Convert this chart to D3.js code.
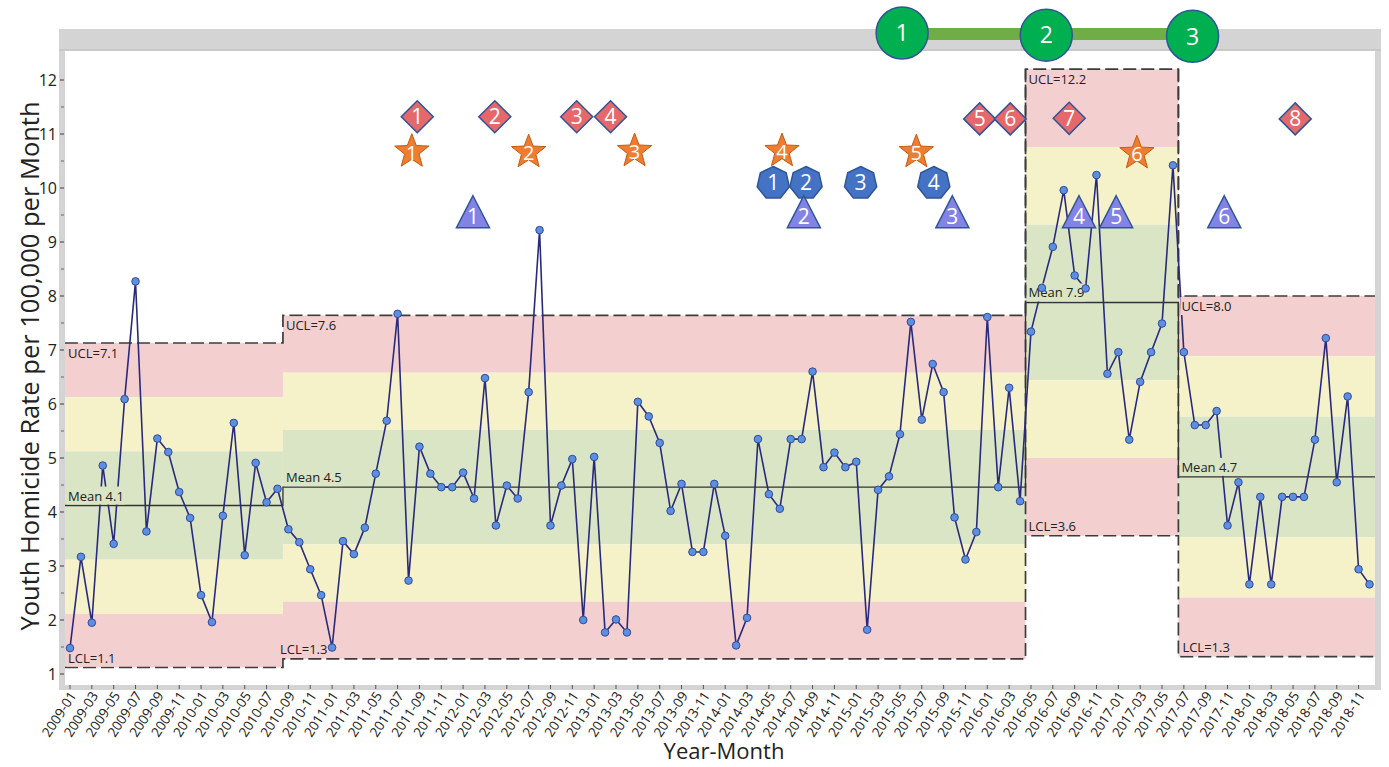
<!DOCTYPE html>
<html>
<head>
<meta charset="utf-8">
<script src="https://cdn.jsdelivr.net/npm/d3@7"></script>
<style>
  body { margin: 0; background: #fff; }
  svg { display: block; font-family: "Open Sans", sans-serif; }
</style>
</head>
<body>
<div id="chart"></div>
<script>
// months 2009-01 .. 2018-12
let firstYear = 2009, lastYear = 2018;
let months = [];
for (let yr = firstYear; yr <= lastYear; yr++) {
    for (let m = 1; m <= 12; m++) months.push(yr + "-" + String(m).padStart(2, "0"));
}

let rates = [
    1.48, 3.17, 1.95, 4.86, 3.41, 6.09, 8.27, 3.64, 5.36, 5.11, 4.37, 3.89,
    2.46, 1.96, 3.93, 5.65, 3.20, 4.91, 4.18, 4.43, 3.68, 3.44, 2.94, 2.46,
    1.49, 3.46, 3.22, 3.71, 4.71, 5.69, 7.67, 2.73, 5.21, 4.71, 4.46, 4.46,
    4.73, 4.25, 6.48, 3.75, 4.49, 4.25, 6.22, 9.22, 3.75, 4.49, 4.98, 2.00,
    5.02, 1.77, 2.01, 1.77, 6.04, 5.77, 5.28, 4.02, 4.52, 3.26, 3.26, 4.52,
    3.56, 1.53, 2.04, 5.35, 4.33, 4.06, 5.35, 5.35, 6.60, 4.83, 5.10, 4.83,
    4.93, 1.82, 4.41, 4.66, 5.44, 7.52, 5.71, 6.74, 6.22, 3.90, 3.12, 3.63,
    7.61, 4.46, 6.30, 4.20, 7.34, 8.15, 8.91, 9.96, 8.38, 8.14, 10.24, 6.56,
    6.96, 5.34, 6.41, 6.96, 7.49, 10.42, 6.96, 5.61, 5.61, 5.87, 3.75, 4.55,
    2.66, 4.28, 2.66, 4.28, 4.28, 4.28, 5.34, 7.22, 4.55, 6.14, 2.94, 2.66
];

// control chart phases (month index ranges)
let phaseStart = [0, 20, 88, 102];
let phaseEnd = [19, 87, 101, 119];
let phaseMean = [4.12, 4.46, 7.88, 4.65];
let phaseUCL = [7.13, 7.64, 12.2, 8.0];
let phaseLCL = [1.12, 1.28, 3.56, 1.32];
let meanLabels = ["Mean 4.1", "Mean 4.5", "Mean 7.9", "Mean 4.7"];
let uclLabels = ["UCL=7.1", "UCL=7.6", "UCL=12.2", "UCL=8.0"];
let lclLabels = ["LCL=1.1", "LCL=1.3", "LCL=3.6", "LCL=1.3"];
let boxedPhase = 2;

let yTicks = [1, 2, 3, 4, 5, 6, 7, 8, 9, 10, 11, 12];
let yMinorTicks = [1.5, 2.5, 3.5, 4.5, 5.5, 6.5, 7.5, 8.5, 9.5, 10.5, 11.5];

// annotation markers: position as month index, height as rate
let diamondPos = [31.8, 38.9, 46.4, 49.5, 83.3, 86.1, 91.5, 112.2];
let diamondVal = [11.32, 11.32, 11.32, 11.32, 11.28, 11.28, 11.29, 11.28];
let starPos = [31.3, 42.0, 51.7, 65.2, 77.5, 97.7];
let starVal = [10.71, 10.70, 10.72, 10.72, 10.70, 10.68];
let heptPos = [64.4, 67.4, 72.4, 79.1];
let heptVal = [10.12, 10.12, 10.12, 10.12];
let triPos = [36.9, 67.2, 80.8, 92.4, 95.8, 105.7];
let triVal = [9.56, 9.56, 9.56, 9.56, 9.56, 9.56];
let stagePos = [76.2, 89.4, 102.8];
let stageVal = [12.87, 12.83, 12.81];

let width = 1389, height = 767;
let svg = d3.select("#chart").append("svg")
    .attr("width", width)
    .attr("height", height);

let x = d3.scaleLinear().domain([0, 119]).range([70, 1369.5]);
let y = d3.scaleLinear().domain([1, 12]).range([674, 80]);

let plot = {left: 65, right: 1375, top: 51, bottom: 685};

// gray frame + white plot area
svg.append("rect")
    .attr("x", plot.left - 6).attr("y", 29)
    .attr("width", plot.right - plot.left + 12).attr("height", plot.bottom - 29 + 5)
    .attr("fill", "#d4d4d4");
svg.append("rect")
    .attr("x", plot.left).attr("y", plot.top)
    .attr("width", plot.right - plot.left).attr("height", plot.bottom - plot.top)
    .attr("fill", "#fff");
svg.append("line")
    .attr("x1", plot.left - 6).attr("x2", plot.right + 6)
    .attr("y1", plot.top - 1).attr("y2", plot.top - 1)
    .attr("stroke", "#bdbdbd").attr("stroke-width", 1);

let red = "#f4cfd0", yellow = "#f5f2c9", green = "#dae5c6";

function xl(i) { return Math.max(plot.left, x(phaseStart[i] - 0.5)); }
function xr(i) { return Math.min(plot.right, x(phaseEnd[i] + 0.5)); }

// zone bands
let bands = svg.append("g");
phaseMean.forEach((m, i) => {
    let s = (phaseUCL[i] - m) / 3;
    let zones = [
        [phaseUCL[i], m + 2 * s, red],
        [m + 2 * s, m + s, yellow],
        [m + s, m - s, green],
        [m - s, m - 2 * s, yellow],
        [m - 2 * s, phaseLCL[i], red]
    ];
    zones.forEach(z => {
        bands.append("rect")
            .attr("x", xl(i))
            .attr("width", xr(i) - xl(i))
            .attr("y", y(z[0]))
            .attr("height", y(z[1]) - y(z[0]))
            .attr("fill", z[2]);
    });
});

// control limit step lines
let stepLine = d3.line().x(d => d[0]).y(d => y(d[1]));
function steps(vals) {
    let pts = [];
    vals.forEach((v, i) => { pts.push([xl(i), v]); pts.push([xr(i), v]); });
    return pts;
}
svg.append("path").attr("d", stepLine(steps(phaseUCL)))
    .attr("fill", "none").attr("stroke", "#3c3c3c").attr("stroke-width", 1.7)
    .attr("stroke-dasharray", "13,5");
svg.append("path").attr("d", stepLine(steps(phaseLCL)))
    .attr("fill", "none").attr("stroke", "#3c3c3c").attr("stroke-width", 1.7)
    .attr("stroke-dasharray", "13,5");
[xl(boxedPhase), xr(boxedPhase)].forEach(px => {
    svg.append("line")
        .attr("x1", px).attr("x2", px)
        .attr("y1", y(phaseUCL[boxedPhase])).attr("y2", y(phaseLCL[boxedPhase]))
        .attr("stroke", "#3c3c3c").attr("stroke-width", 1.7)
        .attr("stroke-dasharray", "13,5");
});
svg.append("path").attr("d", stepLine(steps(phaseMean)))
    .attr("fill", "none").attr("stroke", "#333").attr("stroke-width", 1.3);

// data line
let line = d3.line().x((d, i) => x(i)).y(d => y(d));
svg.append("path").datum(rates)
    .attr("d", line)
    .attr("fill", "none")
    .attr("stroke", "#2a2a7c")
    .attr("stroke-width", 1.6);

// limit labels with band-coloured backing
let labelG = svg.append("g").style("font-size", "13px");
function addLabel(txt, px, py, bg) {
    let t = labelG.append("text").attr("x", px).attr("y", py).attr("fill", "#222").text(txt);
    let b = t.node().getBBox();
    labelG.insert("rect", "text")
        .attr("x", b.x - 1).attr("y", b.y)
        .attr("width", b.width + 2).attr("height", b.height)
        .attr("fill", bg);
}
let lclShift = [3, -3, 3, 4];
phaseMean.forEach((m, i) => {
    addLabel(uclLabels[i], xl(i) + 3, y(phaseUCL[i]) + 15, red);
    addLabel(meanLabels[i], xl(i) + 3, y(m) - 5, green);
    addLabel(lclLabels[i], xl(i) + lclShift[i], y(phaseLCL[i]) - 5, red);
});

// data points
svg.append("g").selectAll("circle")
    .data(rates)
    .enter()
    .append("circle")
    .attr("cx", (d, i) => x(i))
    .attr("cy", d => y(d))
    .attr("r", 3.8)
    .attr("fill", "#5b8fe0")
    .attr("stroke", "#34489a")
    .attr("stroke-width", 1);

// y axis ticks + labels
let yAx = svg.append("g");
yTicks.forEach(v => {
    yAx.append("line").attr("x1", plot.left - 5).attr("x2", plot.left - 1)
        .attr("y1", y(v)).attr("y2", y(v)).attr("stroke", "#555").attr("stroke-width", 1.2);
    yAx.append("text").attr("x", plot.left - 8).attr("y", y(v)).attr("dy", "0.35em")
        .attr("text-anchor", "end").style("font-size", "16px").attr("fill", "#222").text(v);
});
yMinorTicks.forEach(v => {
    yAx.append("line").attr("x1", plot.left - 4).attr("x2", plot.left - 1)
        .attr("y1", y(v)).attr("y2", y(v)).attr("stroke", "#666").attr("stroke-width", 1);
});

// x axis ticks + rotated labels
let xAx = svg.append("g");
months.forEach((mo, i) => {
    if (i % 2 !== 0) return;
    xAx.append("line").attr("x1", x(i)).attr("x2", x(i))
        .attr("y1", plot.bottom).attr("y2", plot.bottom + 4)
        .attr("stroke", "#555").attr("stroke-width", 1);
    xAx.append("text")
        .attr("transform", "translate(" + (x(i) + 3) + "," + (plot.bottom + 8) + ") rotate(-57)")
        .attr("text-anchor", "end").attr("dy", "0.35em")
        .style("font-size", "13.5px").attr("fill", "#222")
        .text(mo);
});

// axis titles
svg.append("text")
    .attr("transform", "translate(30," + 366 + ") rotate(-90)")
    .attr("text-anchor", "middle").attr("dy", "0.35em")
    .style("font-size", "25.5px").attr("fill", "#222")
    .text("Youth Homicide Rate per 100,000 per Month");
svg.append("text")
    .attr("x", 724).attr("y", 759)
    .attr("text-anchor", "middle")
    .style("font-size", "22px").attr("fill", "#222")
    .text("Year-Month");

// annotation markers
let ann = svg.append("g");
function numberText(px, py, n, fs) {
    ann.append("text").attr("x", px).attr("y", py).attr("dy", "0.36em")
        .attr("text-anchor", "middle").style("font-size", (fs || 21) + "px")
        .attr("fill", "#fff").text(n);
}
function polyPath(cx, cy, pts) {
    return "M" + pts.map(p => (cx + p[0]) + "," + (cy + p[1])).join("L") + "Z";
}

// stage bar + circles
ann.append("line")
    .attr("x1", x(stagePos[0])).attr("x2", x(stagePos[stagePos.length - 1]))
    .attr("y1", y(12.85)).attr("y2", y(12.85))
    .attr("stroke", "#70ad47").attr("stroke-width", 12);
stagePos.forEach((p, i) => {
    ann.append("circle").attr("cx", x(p)).attr("cy", y(stageVal[i])).attr("r", 26)
        .attr("fill", "#00b050").attr("stroke", "#2f5597").attr("stroke-width", 1.5);
    numberText(x(p), y(stageVal[i]), i + 1, 23);
});

diamondPos.forEach((p, i) => {
    let cx = x(p), cy = y(diamondVal[i]);
    ann.append("path")
        .attr("d", polyPath(cx, cy, [[0, -16], [16, 0], [0, 16], [-16, 0]]))
        .attr("fill", "#e5686b").attr("stroke", "#2f5597").attr("stroke-width", 1.5);
    numberText(cx, cy, i + 1);
});

let starPts = [];
for (let k = 0; k < 10; k++) {
    let r = k % 2 === 0 ? 18 : 7.6;
    let a = -Math.PI / 2 + k * Math.PI / 5;
    starPts.push([r * Math.cos(a), r * Math.sin(a) + 2]);
}
starPos.forEach((p, i) => {
    let cx = x(p), cy = y(starVal[i]);
    ann.append("path")
        .attr("d", polyPath(cx, cy, starPts))
        .attr("fill", "#ed7d31").attr("stroke", "#c55a11").attr("stroke-width", 1);
    numberText(cx, cy + 3, i + 1, 20);
});

let heptPts = [];
for (let k = 0; k < 7; k++) {
    let a = -Math.PI / 2 + k * 2 * Math.PI / 7;
    heptPts.push([16.5 * Math.cos(a), 16.5 * Math.sin(a) + 1.5]);
}
heptPos.forEach((p, i) => {
    let cx = x(p), cy = y(heptVal[i]);
    ann.append("path")
        .attr("d", polyPath(cx, cy, heptPts))
        .attr("fill", "#4472c4").attr("stroke", "#2f5597").attr("stroke-width", 1.5);
    numberText(cx, cy + 1, i + 1);
});

triPos.forEach((p, i) => {
    let cx = x(p), cy = y(triVal[i]);
    ann.append("path")
        .attr("d", polyPath(cx, cy, [[0, -16], [16.5, 16], [-16.5, 16]]))
        .attr("fill", "#8383e6").attr("stroke", "#2f5597").attr("stroke-width", 1.5);
    numberText(cx, cy + 5, i + 1);
});
</script>
</body>
</html>
